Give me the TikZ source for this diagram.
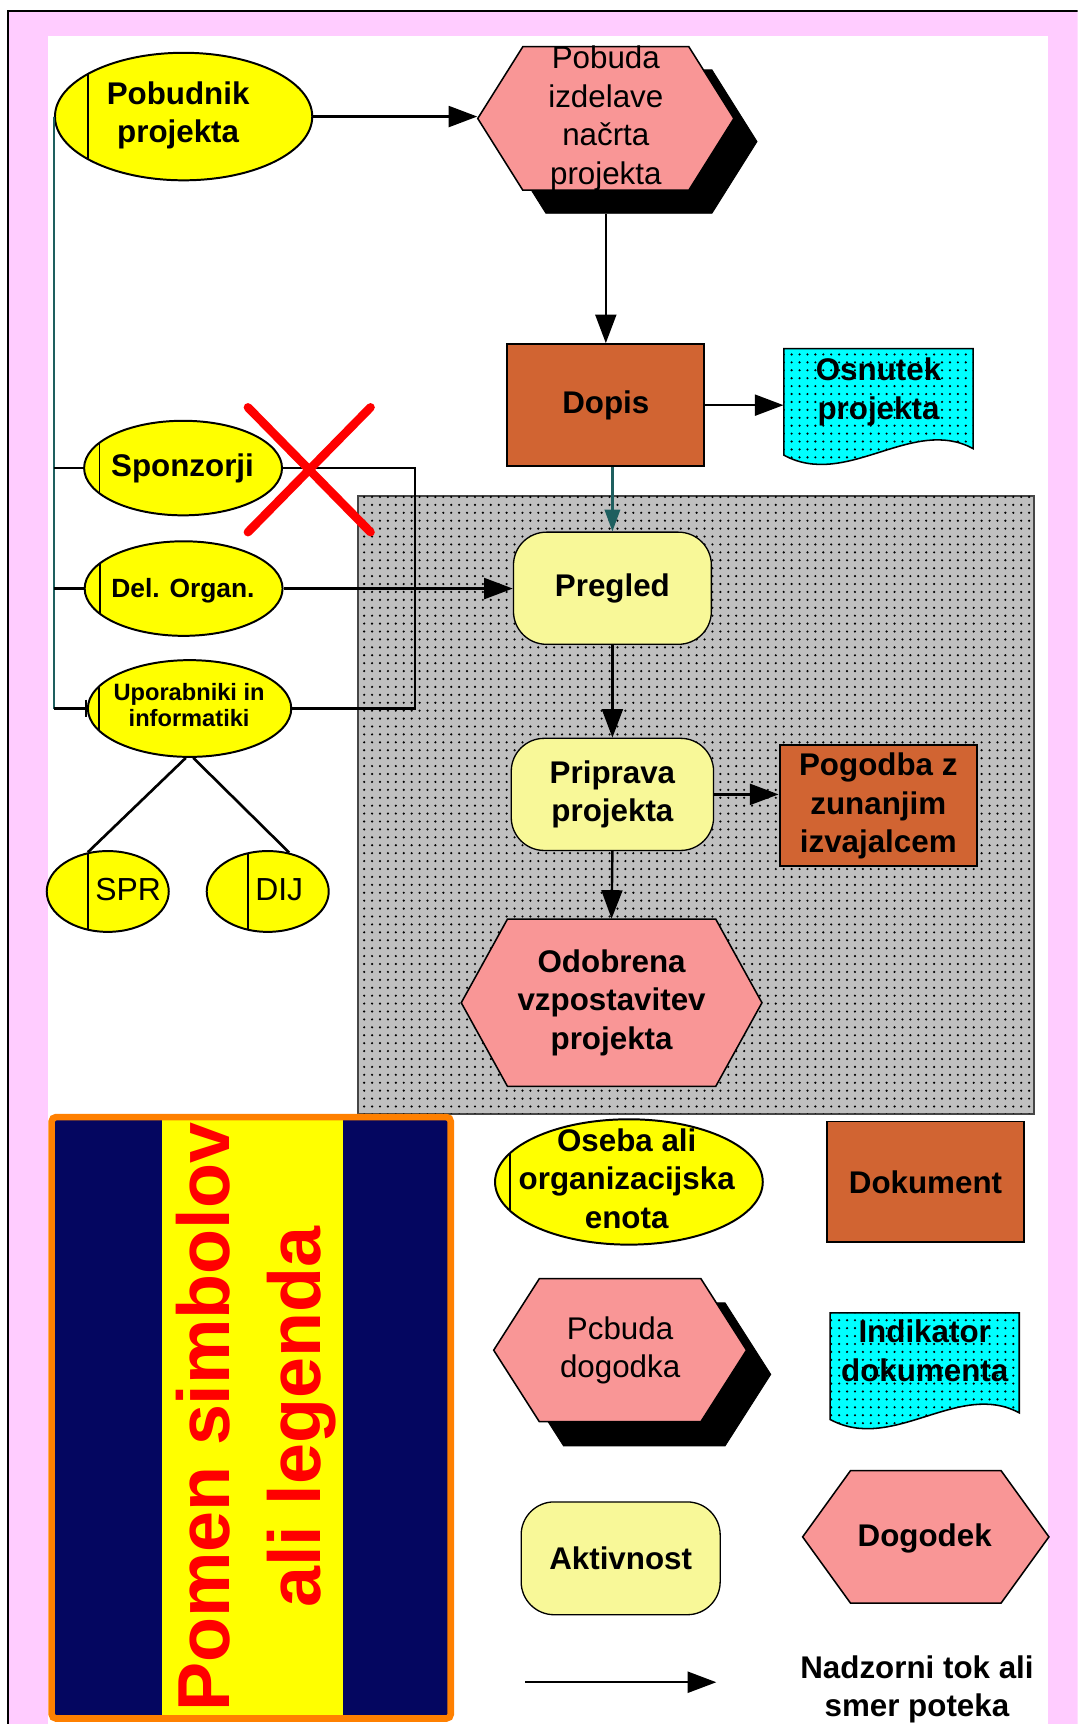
\documentclass[tikz,border=0pt]{standalone}
\usepackage{fontspec}
\setmainfont{Liberation Sans}
\usetikzlibrary{shapes.geometric,arrows.meta,patterns.meta}

\definecolor{framepink}{RGB}{255,204,255}
\definecolor{persony}{RGB}{255,255,0}
\definecolor{eventpink}{RGB}{249,150,150}
\definecolor{docbrown}{RGB}{209,100,50}
\definecolor{actyellow}{RGB}{248,248,152}
\definecolor{indcyan}{RGB}{0,255,255}
\definecolor{areagrey}{RGB}{192,192,192}
\definecolor{areaedge}{RGB}{70,70,70}
\definecolor{legnavy}{RGB}{4,6,96}
\definecolor{legorange}{RGB}{255,128,0}
\definecolor{flowteal}{RGB}{30,95,95}

% event hexagon: style, centre x, centre y, half width, half height, point depth
\newcommand{\evhex}[6]{%
  \draw[#1] (#2-#4,#3) -- (#2-#4+#6,#3-#5) -- (#2+#4-#6,#3-#5) -- (#2+#4,#3)
    -- (#2+#4-#6,#3+#5) -- (#2-#4+#6,#3+#5) -- cycle;}
% document indicator with wavy lower edge: style, left x, top y
\newcommand{\docwave}[3]{%
  \draw[#1] (#2,#3) -- (#2+172,#3) -- (#2+172,#3+91)
    .. controls (#2+117,#3+61) and (#2+57,#3+128) .. (#2,#3+97) -- cycle;}

\tikzset{
  arr/.style={line width=1.1pt, -{Triangle[length=13pt,width=9.5pt]}},
  txt/.style={inner sep=0pt, align=center, font=\fontsize{14.25}{17.5}\selectfont\bfseries},
  txtreg/.style={inner sep=0pt, align=center, font=\fontsize{14.25}{17.5}\selectfont},
  person/.style={shape=ellipse, draw, fill=persony, line width=0.9pt, inner sep=0pt,
    path picture={\draw[line width=0.9pt] ([xshift=#1]path picture bounding box.north west)
      -- ([xshift=#1]path picture bounding box.south west);}},
  docbox/.style={txt, draw, fill=docbrown, line width=0.9pt},
  actbox/.style={txt, draw, fill=actyellow, rounded corners=15pt, line width=0.6pt},
  hexbox/.style={txt},
  hexstyle/.style={fill=eventpink, line width=0.7pt},
  dotfill/.style={postaction={pattern={Dots[distance=3.6pt,radius=0.55pt]}, pattern color=black}},
}

\begin{document}
\begin{tikzpicture}[x=0.5pt,y=-0.5pt]
\clip (0,0) rectangle (980,1568);
\fill[white] (0,0) rectangle (980,1568);

% frame
\draw[line width=0.9pt, fill=framepink] (7.7,10) rectangle (1010,1600);
\fill[white] (43.7,32.8) rectangle (953.6,1600);

% shaded working area
\draw[fill=areagrey, draw=areaedge, line width=0.9pt, dotfill] (326,451) rectangle (940,1013);

% persons and organisational units
\node[person=15pt, minimum width=117pt, minimum height=58pt] (pobudnik) at (167,106) {};
\node[txt] (t-pobudnik) at (162,105) {Pobudnik\\projekta};
\node[person=7pt, minimum width=90pt, minimum height=43pt] (sponzorji) at (166.5,425.7) {};
\node[txt] (t-sponzorji) at (166,426) {Sponzorji};
\node[person=7pt, minimum width=90pt, minimum height=43pt] (delorgan) at (167,535.3) {};
\node[txt, font=\fontsize{12}{14}\selectfont\bfseries] (t-delorgan) at (166.4,537) {Del. Organ.};
\node[person=5pt, minimum width=92.5pt, minimum height=44pt] (uporabniki) at (172.4,644.4) {};
\node[txt, font=\fontsize{10.75}{12}\selectfont\bfseries] (t-uporabniki) at (172,641) {Uporabniki in\\informatiki};
\node[person=18.8pt, minimum width=55.5pt, minimum height=36.75pt] (spr) at (98,810.8) {};
\node[txtreg, font=\fontsize{14.5}{17}\selectfont] (t-spr) at (116.5,809) {SPR};
\node[person=18.8pt, minimum width=55.5pt, minimum height=36.75pt] (dij) at (243.5,810.8) {};
\node[txtreg, font=\fontsize{14.5}{17}\selectfont] (t-dij) at (254,809) {DIJ};

% triggering event with shadow
\evhex{fill=black}{572}{128.75}{116.5}{65.25}{41}
\evhex{hexstyle}{551}{107.75}{116.5}{65.25}{41}
\node[hexbox, txtreg, minimum width=116.5pt, minimum height=65.25pt] (pobuda) at (551,107.75)
  {Pobuda\\izdelave\\načrta\\projekta};

% documents
\node[docbox, minimum width=89.5pt, minimum height=55.5pt] (dopis) at (551,368.5) {Dopis};
\docwave{fill=indcyan, line width=0.7pt, dotfill}{713}{317}
\node[txt, minimum width=86pt] (osnutek) at (799,356.5) {Osnutek\\projekta};

% activities
\node[actbox, minimum width=90pt, minimum height=51pt] (pregled) at (557,535) {Pregled};
\node[actbox, minimum width=92pt, minimum height=51pt] (priprava) at (557,722.5) {Priprava\\projekta};
\node[docbox, minimum width=89.8pt, minimum height=55pt] (pogodba) at (798.8,733) {Pogodba z\\zunanjim\\izvajalcem};
\evhex{hexstyle}{556.25}{912}{136.75}{76}{42}
\node[hexbox, minimum width=136.75pt, minimum height=76pt] (odobrena) at (556.25,912)
  {Odobrena\\vzpostavitev\\projekta};

% connectors
\draw[arr] (pobudnik.east) -- (pobudnik.east -| pobuda.west);
\draw[arr] ([yshift=-10.5pt]pobuda.south) -- (dopis.north);
\draw[arr] (dopis.east) -- (dopis.east -| osnutek.west);
\draw[line width=1.1pt, draw=flowteal, -{Triangle[length=10pt,width=7pt]}]
  (dopis.south -| pregled.north) -- (pregled.north);
\draw[arr] (delorgan.east) -- (delorgan.east -| pregled.west);
\draw[arr] (pregled.south) -- (priprava.north);
\draw[arr] (priprava.east) -- (priprava.east -| pogodba.west);
\draw[arr] (priprava.south) -- (odobrena.north);

\draw[line width=1.1pt, draw=flowteal] (pobudnik.west) -- (pobudnik.west |- uporabniki.west);
\draw[line width=1pt] (pobudnik.west |- sponzorji.west) -- (sponzorji.west);
\draw[line width=1pt] (pobudnik.west |- delorgan.west) -- (delorgan.west);
\draw[line width=1pt, -{Bar[width=8pt,line width=0.9pt]}] (pobudnik.west |- uporabniki.west) -- (uporabniki.west);

\coordinate (brk) at (377.6,0);
\draw[line width=1pt] (sponzorji.east) -- (sponzorji.east -| brk) -- (uporabniki.east -| brk) -- (uporabniki.east);

\draw[line width=1.2pt] ([xshift=-1.7pt]uporabniki.south) -- (spr.117);
\draw[line width=1.2pt] ([xshift=1.7pt]uporabniki.south) -- (dij.61);

% crossed out link
\draw[red, line width=3.9pt, line cap=round] (225.5,370.5) -- (337,484);
\draw[red, line width=3.9pt, line cap=round] (225.5,484) -- (337,370.5);

% legend panel
\fill[legnavy] (47,1016) rectangle (410,1563);
\fill[persony] (147.4,1016) rectangle (311.8,1563);
\draw[legorange, line width=3pt, rounded corners=2pt] (47,1016) rectangle (410,1563);
\node[rotate=90, text=red, align=center, inner sep=0pt,
  font=\fontsize{33.5}{41.75}\selectfont\bfseries] (legtitle) at (233,1289)
  {Pomen simbolov\\ali legenda};

% legend symbols
\node[person=7pt, minimum width=121.75pt, minimum height=57pt] (oseba) at (572,1075) {};
\node[txt] (t-oseba) at (570,1072) {Oseba ali\\organizacijska\\enota};
\node[docbox, minimum width=89.25pt, minimum height=55pt] (dokument) at (841.75,1075) {Dokument};

\evhex{fill=black}{586}{1250}{115}{65}{41.5}
\evhex{hexstyle}{564}{1228}{115}{65}{41.5}
\node[hexbox, txtreg, minimum width=115pt, minimum height=65pt] (pcbuda) at (564,1228) {Pcbuda\\dogodka};

\docwave{fill=indcyan, line width=0.7pt, dotfill}{755}{1194}
\node[txt, minimum width=86pt] (indikator) at (841,1228.5) {Indikator\\dokumenta};

\node[actbox, minimum width=90.5pt, minimum height=51.3pt] (aktivnost) at (564.5,1417.3) {Aktivnost};
\evhex{hexstyle}{842}{1397.8}{112}{60.2}{43.5}
\node[hexbox, minimum width=112pt, minimum height=60.2pt] (dogodek) at (841,1399) {Dogodek};

\coordinate (legfrom) at (477.7,1530);
\coordinate (legto) at (651.5,1530);
\draw[arr] (legfrom) -- (legto);
\node[txt] (nadzor) at (834,1536.5) {Nadzorni tok ali\\smer poteka};
\end{tikzpicture}
\end{document}
